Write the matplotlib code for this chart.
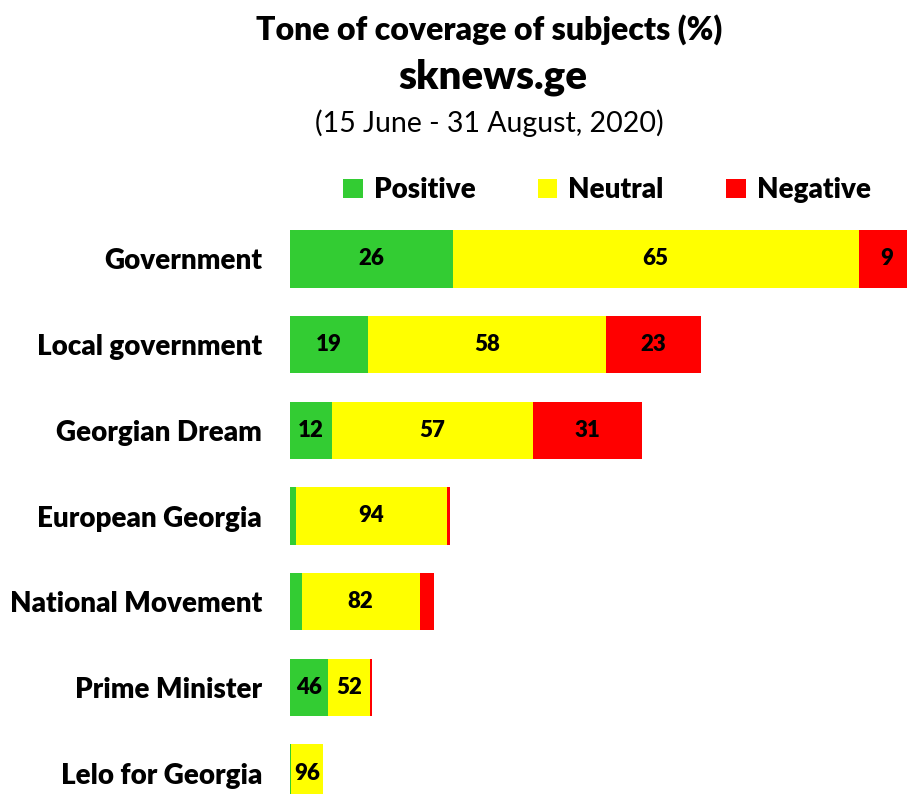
import matplotlib.pyplot as plt
from matplotlib.patches import Patch

plt.rcParams['font.family'] = ['Lato', 'DejaVu Sans']

subjects = ['Government', 'Local government', 'Georgian Dream', 'European Georgia',
            'National Movement', 'Prime Minister', 'Lelo for Georgia']
positive = [26, 19, 12, 4, 8, 46, 4]
neutral = [65, 58, 57, 94, 82, 52, 96]
negative = [9, 23, 31, 2, 10, 2, 0]
# relative volume of coverage (bar length)
totals = [625, 411, 352, 160, 144, 82, 33]

tones = ['Positive', 'Neutral', 'Negative']
colors = ['#33CC33', '#FFFF00', '#FF0000']

W, H = 907, 794
fig = plt.figure(figsize=(W / 100, H / 100), dpi=100)
ax_top, ax_bot = 216, 816
ax = fig.add_axes([290 / W, 1 - ax_bot / H, 617 / W, (ax_bot - ax_top) / H])

y = list(range(len(subjects)))
left = [0.0] * len(subjects)
for series, color in zip([positive, neutral, negative], colors):
    widths = [p / 100 * t for p, t in zip(series, totals)]
    ax.barh(y, widths, left=left, height=0.67, color=color, linewidth=0)
    for i, (p, w) in enumerate(zip(series, widths)):
        if w >= 25:
            ax.text(left[i] + w / 2, y[i], str(p), ha='center', va='center',
                    fontsize=16, fontweight='heavy', color='black')
    left = [l + w for l, w in zip(left, widths)]

ax.set_xlim(0, 617)
ax.set_ylim(len(subjects) - 0.5, -0.5)
ax.set_yticks(y)
ax.set_yticklabels(subjects, fontsize=20, fontweight='heavy')
ax.tick_params(axis='y', length=0, pad=20)
ax.set_xticks([])
for s in ax.spines.values():
    s.set_visible(False)

fig.text(489 / W, 1 - 30 / H, 'Tone of coverage of subjects (%)', ha='center', va='center',
         fontsize=23, fontweight='heavy')
fig.text(493 / W, 1 - 77 / H, 'sknews.ge', ha='center', va='center',
         fontsize=29, fontweight='heavy')
fig.text(489 / W, 1 - 123 / H, '(15 June - 31 August, 2020)', ha='center', va='center',
         fontsize=20.5)

handles = [Patch(facecolor=c, edgecolor='none', label=t) for c, t in zip(colors, tones)]
fig.legend(handles=handles, loc='center', bbox_to_anchor=(607 / W, 1 - 190 / H), ncol=3,
           frameon=False, prop={'size': 20, 'weight': 'heavy'}, handlelength=0.7,
           handleheight=0.7, handletextpad=0.4, columnspacing=2.25)

fig.savefig('out.png', dpi=100)
